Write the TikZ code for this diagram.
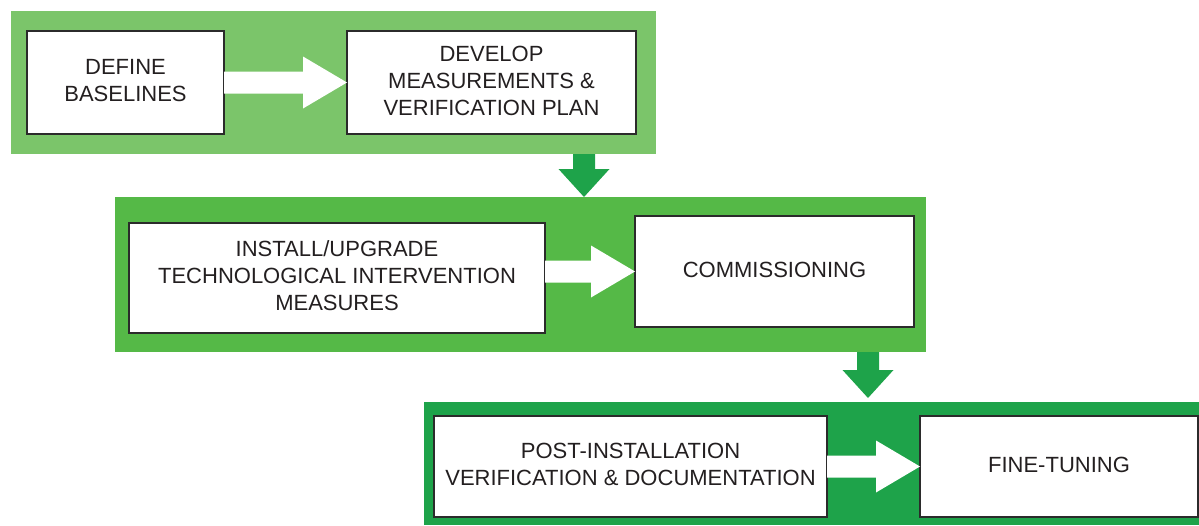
\documentclass[tikz,border=0pt]{standalone}
\usepackage{fontspec}
\setmainfont{Liberation Sans}
\usetikzlibrary{calc}
\definecolor{bandA}{HTML}{7BC56A}
\definecolor{bandB}{HTML}{55B947}
\definecolor{bandC}{HTML}{1EA34A}
\definecolor{inkgray}{HTML}{231F20}
\definecolor{edgegray}{HTML}{2B2B2B}

% white block arrow from the east side of #1 to the west anchor of #2
\newcommand\flowright[2]{%
  \coordinate (fs) at (#1.east |- #2.west);
  \coordinate (ft) at (#2.west);
  \fill[white] ($(fs)+(0,11)$) -- ($(ft)+(-44,11)$) -- ($(ft)+(-44,26)$) -- (ft)
    -- ($(ft)+(-44,-26)$) -- ($(ft)+(-44,-11)$) -- ($(fs)+(0,-11)$) -- cycle;}

% green block arrow pointing down from #1 to #2
\newcommand\flowdown[2]{%
  \fill[bandC] ($(#1)+(-11,0)$) -- ($(#2)+(-11,-28)$) -- ($(#2)+(-25.5,-28)$) -- (#2)
    -- ($(#2)+(25.5,-28)$) -- ($(#2)+(11,-28)$) -- ($(#1)+(11,0)$) -- cycle;}

\begin{document}
\begin{tikzpicture}[x=1pt,y=-1pt,
  band/.style={fill=#1, draw=none, inner sep=0, outer sep=0},
  stepbox/.style={draw=edgegray, line width=1.2pt, fill=white, inner sep=0,
    outer sep=0, align=center, text=inkgray, text depth=4pt,
    font=\fontsize{22}{27}\selectfont}]
\useasboundingbox (0,0) rectangle (1199,525);

% stage bands
\node[band=bandA, minimum width=645, minimum height=143] (band1) at (333.5,82.5) {};
\node[band=bandB, minimum width=811, minimum height=155] (band2) at (520.5,274.5) {};
\node[band=bandC, minimum width=775, minimum height=123] (band3) at (811.5,463.5) {};

% steps
\node[stepbox, minimum width=197, minimum height=103] (b1) at (125.5,82.5) {DEFINE\\BASELINES};
\node[stepbox, minimum width=289, minimum height=103] (b2) at (491.5,82.5) {DEVELOP\\MEASUREMENTS \&\\VERIFICATION PLAN};
\node[stepbox, minimum width=416, minimum height=110] (b3) at (337,278) {INSTALL/UPGRADE\\TECHNOLOGICAL INTERVENTION\\MEASURES};
\node[stepbox, minimum width=279, minimum height=111] (b4) at (774.5,271.5) {COMMISSIONING};
\node[stepbox, minimum width=393, minimum height=101] (b5) at (630.5,466.5) {POST-INSTALLATION\\VERIFICATION \& DOCUMENTATION};
\node[stepbox, minimum width=278, minimum height=101] (b6) at (1059,466.5) {FINE-TUNING};

% arrows within each stage
\flowright{b1}{b2}
\flowright{b3}{b4}
\flowright{b5}{b6}

% arrows between stages
\coordinate (d1s) at (584,0 |- band1.south);
\coordinate (d1t) at (584,0 |- band2.north);
\coordinate (d2s) at (868,0 |- band2.south);
\coordinate (d2t) at ($(868,0 |- band3.north)+(0,-4)$);
\flowdown{d1s}{d1t}
\flowdown{d2s}{d2t}
\end{tikzpicture}
\end{document}
